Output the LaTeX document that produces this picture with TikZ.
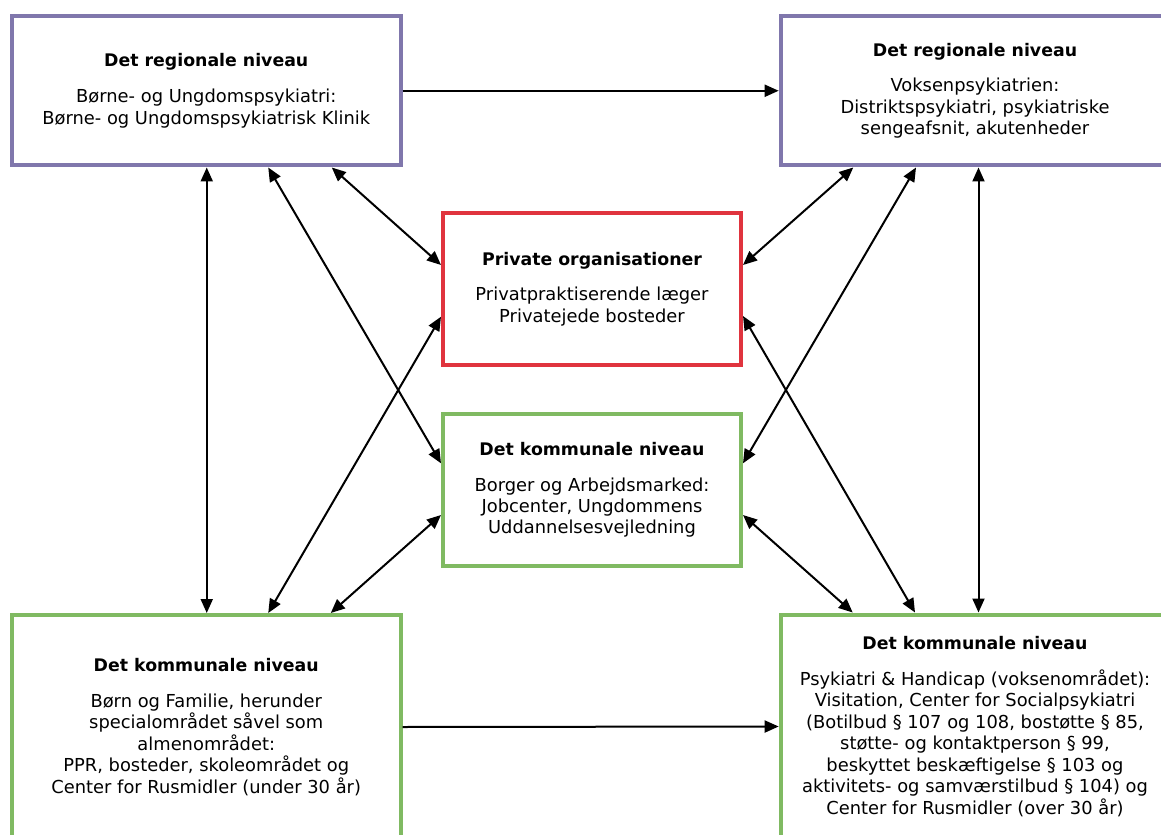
\documentclass[tikz,border=0pt]{standalone}
\usepackage{fontspec}
\setmainfont{DejaVu Sans}
\usetikzlibrary{arrows.meta,calc}
\definecolor{regpurple}{RGB}{128,119,172}
\definecolor{privred}{RGB}{224,52,62}
\definecolor{komgreen}{RGB}{128,186,98}
\newcommand{\boxhead}[1]{{\fontsize{13}{16.1}\selectfont\bfseries #1}}

\begin{document}
\begin{tikzpicture}[x=0.75pt,y=-0.75pt,
  >={Triangle[length=10.5pt,width=9pt]},
  box/.style={draw=#1,line width=3pt,fill=white,align=center,inner sep=0pt,
    font=\fontsize{13.4}{16.1}\selectfont},
  widebox/.style={box=#1,minimum width=291.5pt},
  midbox/.style={box=#1,minimum width=223.5pt,minimum height=114pt},
  link/.style={line width=1.5pt,<->},
  flow/.style={line width=1.5pt,->}]
\useasboundingbox (0,0) rectangle (1161,835);
\clip (0,0) rectangle (1161,835);

% regional level (top row)
\node[widebox=regpurple,minimum height=112.1pt] (tl) at (206.25,90.75)
  {\boxhead{Det regionale niveau}\\[10.6pt]
   Børne- og Ungdomspsykiatri:\\
   Børne- og Ungdomspsykiatrisk Klinik};
\node[widebox=regpurple,minimum height=112.1pt] (tr) at (975,90.75)
  {\boxhead{Det regionale niveau}\\[10.6pt]
   Voksenpsykiatrien:\\
   Distriktspsykiatri, psykiatriske\\
   sengeafsnit, akutenheder};

% middle column
\node[midbox=privred] (pr) at (592,289)
  {\boxhead{Private organisationer}\\[10.6pt]
   Privatpraktiserende læger\\
   Privatejede bosteder};
\node[midbox=komgreen] (km) at (592,490)
  {\boxhead{Det kommunale niveau}\\[10.6pt]
   Borger og Arbejdsmarked:\\
   Jobcenter, Ungdommens\\
   Uddannelsesvejledning};

% municipal level (bottom row)
\node[widebox=komgreen,minimum height=168pt] (bl) at (206.25,727)
  {\boxhead{Det kommunale niveau}\\[10.6pt]
   Børn og Familie, herunder\\
   specialområdet såvel som\\
   almenområdet:\\
   PPR, bosteder, skoleområdet og\\
   Center for Rusmidler (under 30 år)};
\node[widebox=komgreen,minimum height=168pt] (br) at (975,726.5)
  {\boxhead{Det kommunale niveau}\\[10.6pt]
   Psykiatri \& Handicap (voksenområdet):\\
   Visitation, Center for Socialpsykiatri\\
   (Botilbud § 107 og 108, bostøtte § 85,\\
   støtte- og kontaktperson § 99,\\
   beskyttet beskæftigelse § 103 og\\
   aktivitets- og samværstilbud § 104) og\\
   Center for Rusmidler (over 30 år)};

% one-way links between the outer boxes
\draw[flow] (tl.east) -- (tr.west);
\draw[flow] (bl.east) -- (br.west);

% vertical links
\draw[link] ($(tl.south)+(0.5,0)$) -- ($(bl.north)+(0.5,0)$);
\draw[link] ($(tr.south)+(3.5,0)$) -- ($(br.north)+(3.5,0)$);

% left side diagonals
\draw[link] ($(tl.south)+(62,0)$) -- ($(km.west)+(0,-26.7)$);
\draw[link] ($(tl.south)+(125.5,0)$) -- ($(pr.west)+(0,-24)$);
\draw[link] ($(bl.north)+(62,0)$) -- ($(pr.west)+(0,27.7)$);
\draw[link] ($(bl.north)+(124.5,0)$) -- ($(km.west)+(0,25)$);

% right side diagonals
\draw[link] ($(tr.south)+(-121.7,0)$) -- ($(pr.east)+(0,-24)$);
\draw[link] ($(tr.south)+(-59,0)$) -- ($(km.east)+(0,-26.7)$);
\draw[link] ($(br.north)+(-60,0)$) -- ($(pr.east)+(0,27)$);
\draw[link] ($(br.north)+(-122.3,0)$) -- ($(km.east)+(0,25)$);
\end{tikzpicture}
\end{document}
